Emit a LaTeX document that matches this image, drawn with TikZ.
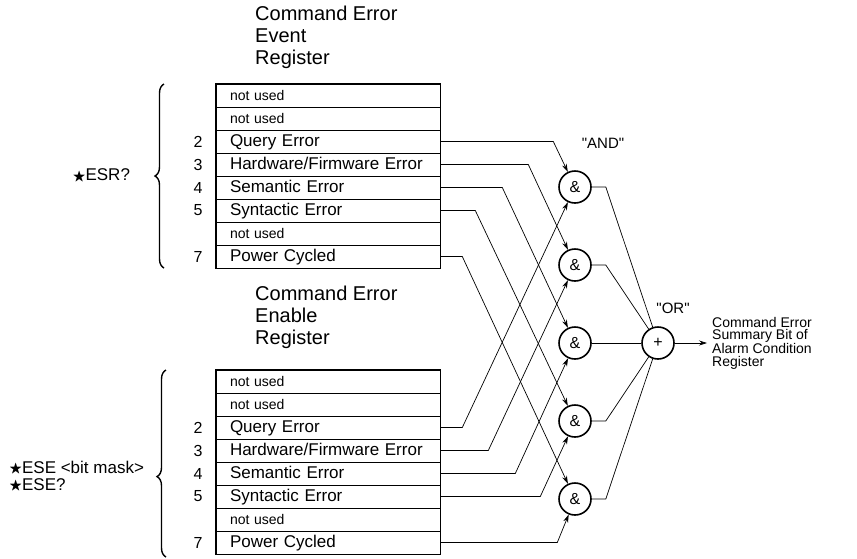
\documentclass[tikz,border=0pt]{standalone}
\usepackage{amssymb}
\usepackage{fontspec}
\setmainfont{Liberation Sans}
\usetikzlibrary{arrows.meta,decorations.pathreplacing,positioning}

\newcommand{\cmdstar}{{\fontsize{13.5}{13.5}\selectfont\raisebox{0.5pt}{$\bigstar$}}}

\tikzset{
  regrow/.style={draw, line width=0.6pt, minimum height=23pt, text width=196pt,
    inner xsep=14pt, inner ysep=0pt, align=left, text height=13pt, text depth=3pt,
    font=\fontsize{17}{19}\selectfont},
  unused/.style={regrow, font=\fontsize{14}{16}\selectfont},
  bitnum/.style={font=\fontsize{16}{18}\selectfont},
  regtitle/.style={align=left, anchor=north west, inner sep=0pt, font=\fontsize{20}{22}\selectfont},
  regframe/.style={line width=1.6pt},
  gate/.style={circle, draw, line width=1.6pt, minimum size=32pt, inner sep=0pt,
    font=\fontsize{16}{16}\selectfont},
  gatelabel/.style={font=\fontsize{15}{15}\selectfont},
  wire/.style={line width=0.7pt},
  cmdbrace/.style={decorate, decoration={brace, amplitude=9pt}, line width=1.4pt},
  cmdtext/.style={font=\fontsize{17}{17}\selectfont, align=left}
}

\begin{document}
\begin{tikzpicture}[x=1pt, y=-1pt, node distance=23pt, >={Stealth[length=8pt, width=5pt]}]
        \useasboundingbox (0,0) rectangle (857,558);

        % Define nodes
        \node (evtitle) [regtitle] at (255,6) {Command Error\\Event\\Register};
        \node (e1) [unused] at (328,95.5) {not used};
        \node (e2) [unused, below of=e1] {not used};
        \node (e3) [regrow, below of=e2] {Query Error};
        \node (e4) [regrow, below of=e3] {Hardware/Firmware Error};
        \node (e5) [regrow, below of=e4] {Semantic Error};
        \node (e6) [regrow, below of=e5] {Syntactic Error};
        \node (e7) [unused, below of=e6] {not used};
        \node (e8) [regrow, below of=e7] {Power Cycled};
        \draw[regframe] (e1.north west) rectangle (e8.south east);

        \node (e3n) [bitnum, left of=e3, node distance=130pt] {2};
        \node (e4n) [bitnum, left of=e4, node distance=130pt] {3};
        \node (e5n) [bitnum, left of=e5, node distance=130pt] {4};
        \node (e6n) [bitnum, left of=e6, node distance=130pt] {5};
        \node (e8n) [bitnum, left of=e8, node distance=130pt] {7};

        \node (entitle) [regtitle] at (255,286) {Command Error\\Enable\\Register};
        \node (f1) [unused] at (328,381.5) {not used};
        \node (f2) [unused, below of=f1] {not used};
        \node (f3) [regrow, below of=f2] {Query Error};
        \node (f4) [regrow, below of=f3] {Hardware/Firmware Error};
        \node (f5) [regrow, below of=f4] {Semantic Error};
        \node (f6) [regrow, below of=f5] {Syntactic Error};
        \node (f7) [unused, below of=f6] {not used};
        \node (f8) [regrow, below of=f7] {Power Cycled};
        \draw[regframe] (f1.north west) rectangle (f8.south east);

        \node (f3n) [bitnum, left of=f3, node distance=130pt] {2};
        \node (f4n) [bitnum, left of=f4, node distance=130pt] {3};
        \node (f5n) [bitnum, left of=f5, node distance=130pt] {4};
        \node (f6n) [bitnum, left of=f6, node distance=130pt] {5};
        \node (f8n) [bitnum, left of=f8, node distance=130pt] {7};

        % Query commands
        \draw[cmdbrace] (164,268) -- (164,84) node (esr) [cmdtext, midway, left=30pt] {\cmdstar ESR?};
        \draw[cmdbrace, decoration={aspect=0.43}] (166,557) -- (166,370)
            node (ese) [cmdtext, pos=0.43, left=18pt] {\cmdstar ESE <bit mask>\\\cmdstar ESE?};

        % Gates
        \node (a1) [gate] at (575,187) {\&};
        \node (a2) [gate, below of=a1, node distance=78pt] {\&};
        \node (a3) [gate, below of=a2, node distance=78pt] {\&};
        \node (a4) [gate, below of=a3, node distance=78pt] {\&};
        \node (a5) [gate, below of=a4, node distance=78pt] {\&};
        \node (or) [gate, right of=a3, node distance=83pt] {+};
        \node (andlbl) [gatelabel] at (603,143) {\textquotedbl AND\textquotedbl};
        \node (orlbl) [gatelabel] at (673,308) {\textquotedbl OR\textquotedbl};
        \node (sumbit) [anchor=west, align=left, inner xsep=5pt, font=\fontsize{14}{12.5}\selectfont]
            at (707,343) {Command Error\\Summary Bit of\\Alarm Condition\\Register};

        % Draw arrows
        \draw[wire, ->] (e3.east) -- ++(113,0) -- (a1);
        \draw[wire, ->] (e4.east) -- ++(88,0) -- (a2);
        \draw[wire, ->] (e5.east) -- ++(62,0) -- (a3);
        \draw[wire, ->] (e6.east) -- ++(35,0) -- (a4);
        \draw[wire, ->] (e8.east) -- ++(22,0) -- (a5);

        \draw[wire, ->] (f3.east) -- ++(22,0) -- (a1);
        \draw[wire, ->] (f4.east) -- ++(48,0) -- (a2);
        \draw[wire, ->] (f5.east) -- ++(75,0) -- (a3);
        \draw[wire, ->] (f6.east) -- ++(100,0) -- (a4);
        \draw[wire, ->] (f8.east) -- ++(117,0) -- (a5);

        \draw[wire] (a1.east) -- ++(14,0) -- (or);
        \draw[wire] (a2.east) -- ++(14,0) -- (or);
        \draw[wire] (a3) -- (or);
        \draw[wire] (a4.east) -- ++(14,0) -- (or);
        \draw[wire] (a5.east) -- ++(14,0) -- (or);
        \draw[wire, ->] (or) -- (sumbit);
    \end{tikzpicture}
\end{document}
